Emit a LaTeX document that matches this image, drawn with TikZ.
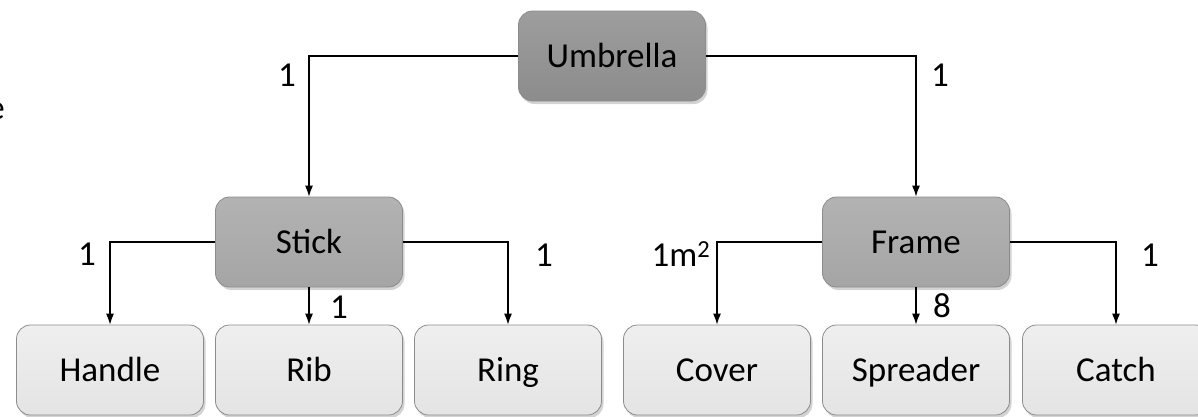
\documentclass[tikz,border=0pt]{standalone}
\usepackage{fontspec}
\setmainfont{Carlito}
\usetikzlibrary{shadows,arrows.meta}

\definecolor{topgray}{RGB}{140,140,140}
\definecolor{midgray}{RGB}{165,165,165}
\definecolor{lowgray}{RGB}{228,228,228}

\tikzset{
  part/.style={draw=black!45, line width=0.8pt, rounded corners=14pt,
    minimum width=187pt, minimum height=90pt, inner sep=0pt,
    text height=22pt, text depth=0pt,
    font=\fontsize{35}{40}\selectfont,
    drop shadow={opacity=0.35, shadow xshift=2pt, shadow yshift=-3pt}},
  whole/.style={part, top color=topgray!85, bottom color=topgray},
  sub/.style={part, top color=midgray!85, bottom color=midgray},
  piece/.style={part, top color=lowgray!60, bottom color=lowgray},
  link/.style={-{Latex[length=11pt,width=8pt]}, line width=1.2pt},
  qty/.style={inner sep=0pt, font=\fontsize{35}{40}\selectfont}
}

\begin{document}
\begin{tikzpicture}[x=1pt,y=-1pt]

\useasboundingbox (0,0) rectangle (1198,416);

\node[qty, anchor=base east] (frag) at (5,119) {e};

\node[whole] (umbrella) at (612,56) {Umbrella};
\node[sub] (stick) at (309,242) {Stick};
\node[sub] (frame) at (916,242) {Frame};

\node[piece] (handle) at (110,370) {Handle};
\node[piece] (rib) at (309,370) {Rib};
\node[piece] (ring) at (508,370) {Ring};
\node[piece] (cover) at (717,370) {Cover};
\node[piece] (spreader) at (916,370) {Spreader};
\node[piece] (catch) at (1116,370) {Catch};

\draw[link] (umbrella.west) -| (stick.north);
\draw[link] (umbrella.east) -| (frame.north);
\draw[link] (stick.west) -| (handle.north);
\draw[link] (stick.south) -- (rib.north);
\draw[link] (stick.east) -| (ring.north);
\draw[link] (frame.west) -| (cover.north);
\draw[link] (frame.south) -- (spreader.north);
\draw[link] (frame.east) -| (catch.north);

\node[qty] (qstick) at (287,75) {1};
\node[qty] (qframe) at (940,75) {1};
\node[qty] (qhandle) at (87,254) {1};
\node[qty] (qrib) at (339,307) {1};
\node[qty] (qring) at (544,255) {1};
\node[qty] (qcover) at (681,254) {1m\textsuperscript{2}};
\node[qty] (qspreader) at (942,306) {8};
\node[qty] (qcatch) at (1150,255) {1};

\end{tikzpicture}
\end{document}
